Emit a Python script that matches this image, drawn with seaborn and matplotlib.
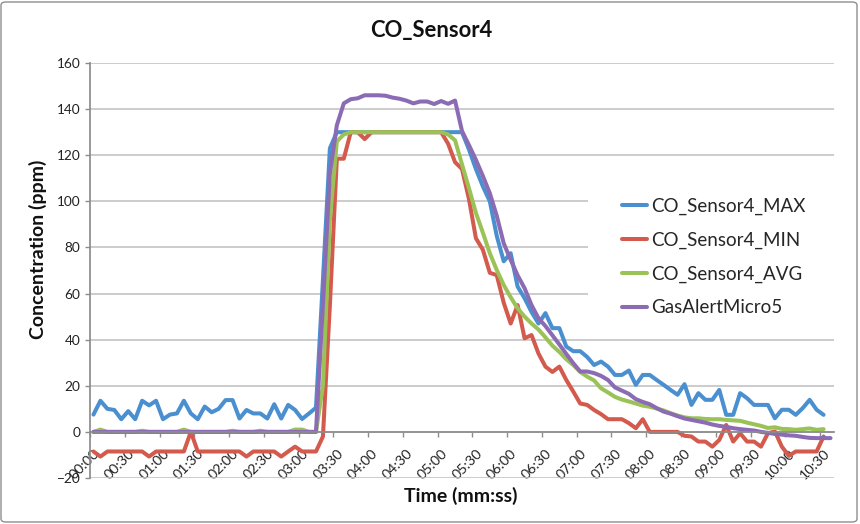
import numpy as np
import pandas as pd
import matplotlib
matplotlib.use("Agg")
import matplotlib.pyplot as plt
from matplotlib.patches import Rectangle, FancyBboxPatch
import seaborn as sns

# one reading every 6 seconds
SAMPLE_SECONDS = 6

co_max = [7.5, 13.5, 10, 9.5, 5.5, 9, 5.5, 13.5, 11.5, 13.5, 5.5, 7.5, 8, 13.5, 8, 5.5,
          11, 8.5, 10, 13.8, 13.8, 5.8, 9.5, 8, 8, 5.8, 12, 5.8, 11.7, 9.5, 5.6, 8, 10.5,
          66, 123, 130, 130, 130, 130, 130, 130, 130, 130, 130, 130, 130, 130, 130, 130,
          130, 130, 130, 130, 130,
          122.5, 114, 106.5, 100, 85, 74, 77.5, 63, 58, 52, 47, 51.5, 45, 45, 37, 35, 35,
          32.5, 29, 30.5, 28.3, 24.7, 24.7, 26.6, 20.4, 24.7, 24.7, 22.5, 20.4, 18.2, 16.1,
          20.7, 11.7, 16.8, 13.9, 13.9, 18.2, 7.4, 7.4, 16.8, 14.6, 11.7, 11.7, 11.7, 5.9,
          9.6, 9.6, 7.4, 10.3, 13.9, 9.6, 7.4]

co_min = [-8.5, -10.7, -8.5, -8.5, -8.5, -8.5, -8.5, -8.5, -10.7, -8.5, -8.5, -8.5, -8.5,
          -8.5, 0, -8.5, -8.5, -8.5, -8.5, -8.5, -8.5, -8.5, -10.7, -8.5, -8.5, -8.5, -8.5,
          -10.7, -8.5, -6.4, -8.5, -8.5, -8.5,
          -2, 55, 118.5, 118.5, 130, 130, 127, 130, 130, 130, 130, 130, 130, 130, 130, 130,
          130, 130, 125, 117, 114,
          101, 84, 79, 69, 68, 56, 47, 55, 40.6, 42, 34, 28.3, 26, 28.3, 22.5, 17.5, 12.3,
          11.7, 9.5, 7.7, 5.5, 5.5, 5.5, 3.8, 1.6, 5.5, 0, 0, 0, 0, 0, -1.7, -2, -4.2, -4.2,
          -6.4, -3.5, 3, -4.2, -0.6, -4.2, -4.2, -6.4, -0.6, 0.2, -6.4, -10.4, -8.5, -8.5,
          -8.5, -8.5, -2]

co_avg = [0, 1, 0, 0, 0, 0, 0, 0.5, 0, 0, 0, 0, 0, 1, 0, 0, 0, 0, 0, 0, 0.5, 0, 0, 0, 0.5,
          0, 0, 0, 0, 1, 1, 0, 0,
          20, 92, 126, 129, 130, 130, 130, 130, 130, 130, 130, 130, 130, 130, 130, 130, 130,
          130, 129, 126.5, 116,
          105.7, 95, 86.4, 77.5, 70.2, 63.7, 58.4, 53.6, 50, 47, 44.4, 41, 37.4, 34.7, 31.5,
          29, 26, 24, 22.3, 18.9, 17.1, 15.2, 14, 13.2, 12.3, 11.4, 10.9, 10.1, 9.3, 8.1,
          7.1, 6.3, 5.9, 5.9, 5.6, 5.5, 5.5, 5.2, 5, 4.8, 4, 3.3, 2.6, 1.7, 2, 1.3, 1.2, 0.9,
          1.2, 1.5, 0.9, 1.2]

gas_alert = [0, 0, 0, 0, 0, 0, 0, 0, 0, 0, 0, 0, 0, 0, 0, 0, 0, 0, 0, 0, 0, 0, 0, 0, 0,
             0, 0, 0, 0, 0, 0, 0, 0,
             55, 112, 133, 142.5, 144.3, 144.7, 146, 146, 146, 145.8, 145, 144.5, 143.7,
             142.5, 143.3, 143.3, 142.2, 143.5, 142.3, 143.7, 130.5,
             124.4, 118, 111, 103.5, 93.7, 81.8, 74.6, 67.9, 62.3, 55, 49.3, 45.9, 41.9,
             37.9, 33.8, 29.8, 26.2, 26.2, 25.5, 24.3, 22.5, 19.3, 17.9, 16.5, 14.2, 13, 12,
             10.3, 8.8, 7.9, 6.8, 5.8, 5.2, 4.6, 4, 3.2, 2.6, 2.2, 1.6, 1.2, 0.9, 0.6, 0,
             -0.4, -0.9, -1.2, -1.5, -1.7, -2.2, -2.6, -2.7, -2.7, -2.7]

tick_labels = ["00:00", "00:30", "01:00", "01:30", "02:00", "02:30", "03:00", "03:30",
               "04:00", "04:30", "05:00", "05:30", "06:00", "06:30", "07:00", "07:30",
               "08:00", "08:30", "09:00", "09:30", "10:00", "10:30"]

series_names = ["CO_Sensor4_MAX", "CO_Sensor4_MIN", "CO_Sensor4_AVG", "GasAlertMicro5"]
series_colors = ["#4A8FCF", "#D35A4C", "#9BC257", "#8C6BB5"]

frames = []
for name, vals in zip(series_names, [co_max, co_min, co_avg, gas_alert]):
    frames.append(pd.DataFrame({
        "seconds": np.arange(len(vals)) * SAMPLE_SECONDS,
        "ppm": vals,
        "series": name,
    }))
df = pd.concat(frames, ignore_index=True)

sns.set_theme(style="white")
plt.rcParams["font.family"] = ["Lato", "DejaVu Sans"]

W, H = 860, 524
fig = plt.figure(figsize=(W / 100, H / 100), dpi=100)
ax = fig.add_axes([90 / W, 1 - 478 / H, 744 / W, 415 / H])

sns.lineplot(data=df, x="seconds", y="ppm", hue="series", hue_order=series_names,
             palette=dict(zip(series_names, series_colors)), estimator=None, sort=False,
             linewidth=2.9, solid_joinstyle="round", solid_capstyle="round", ax=ax)

# spines first: moving a spine rebuilds the tick objects
for side in ["top", "right"]:
    ax.spines[side].set_visible(False)
ax.spines["left"].set_color("#8c8c8c")
ax.spines["bottom"].set_color("#8c8c8c")
ax.spines["bottom"].set_position(("data", 0))
ax.set_xlabel("")
ax.set_ylabel("")

half = SAMPLE_SECONDS / 2
n_cat = len(gas_alert)
ax.set_xlim(-half, n_cat * SAMPLE_SECONDS - half)
ax.set_ylim(-20, 160)
ax.set_yticks(np.arange(-20, 161, 20))

ax.tick_params(axis="x", which="major", direction="out", length=3.8, width=1,
               color="#8c8c8c", bottom=True)
ax.tick_params(axis="x", which="minor", length=0, pad=11, bottom=True)
ax.tick_params(axis="y", which="major", direction="out", length=3.8, width=1,
               color="#8c8c8c", left=True, labelsize=9.8, labelcolor="#222222", pad=3)

# tick marks sit between categories, labels on every fifth reading
label_pos = np.arange(len(tick_labels)) * 30
ax.set_xticks(label_pos - half)
ax.set_xticklabels([])
ax.set_xticks(label_pos, minor=True)
ax.set_xticklabels(tick_labels, minor=True)
for lbl in ax.get_xticklabels(minor=True):
    lbl.set_rotation(45)
    lbl.set_horizontalalignment("right")
    lbl.set_verticalalignment("top")
    lbl.set_rotation_mode("anchor")
    lbl.set_fontsize(10.3)
    lbl.set_color("#222222")

ax.set_axisbelow(True)
ax.yaxis.grid(True, color="#c4c4c4", linewidth=1.2)
ax.xaxis.grid(False)

# legend panel hides the gridlines behind it
ax.add_patch(Rectangle((588 / W, 1 - 322 / H), (836 - 588) / W, (322 - 183) / H,
                       transform=fig.transFigure, facecolor="white", edgecolor="none",
                       zorder=1.5, clip_on=False))
handles, labels = ax.get_legend_handles_labels()
for h in handles:
    h.set_linewidth(2.9)
ax.legend(handles, labels, loc="center left",
          bbox_to_anchor=(622 / W, 1 - 257 / H), bbox_transform=fig.transFigure,
          frameon=False, fontsize=13.5, handlelength=1.35, handletextpad=0.2,
          labelspacing=0.88, borderpad=0, borderaxespad=0)

fig.text(431 / W, 1 - 31 / H, "CO_Sensor4", ha="center", va="center",
         fontsize=15.8, fontweight="bold", color="#111111")
fig.text(461 / W, 1 - 496 / H, "Time (mm:ss)", ha="center", va="center",
         fontsize=14, fontweight="bold", color="#111111")
fig.text(38 / W, 1 - 249 / H, "Concentration (ppm)", ha="center", va="center",
         rotation=90, fontsize=14, fontweight="bold", color="#111111")

fig.patches.append(FancyBboxPatch((1 / W, 2 / H), 856 / W, 520 / H,
                                  boxstyle="round,pad=0,rounding_size=0.006",
                                  transform=fig.transFigure, facecolor="none",
                                  edgecolor="#8e8e8e", linewidth=1))

fig.savefig("out.png", dpi=100, facecolor="white")
